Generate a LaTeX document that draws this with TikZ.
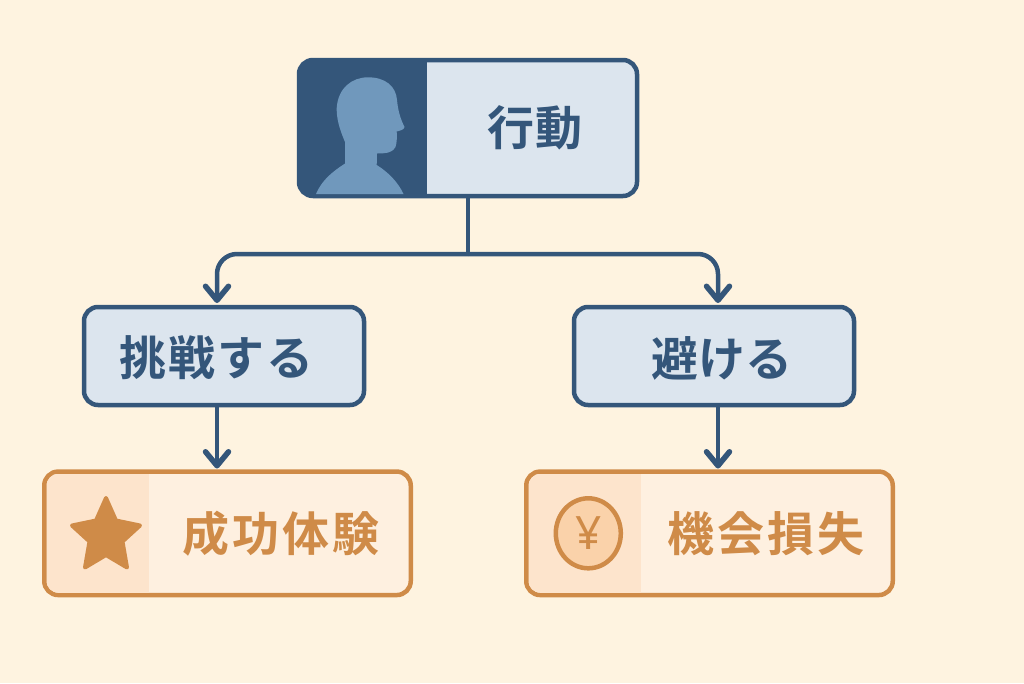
\documentclass[tikz,border=0pt]{standalone}
\usepackage{fontspec}
\usetikzlibrary{arrows.meta,shapes.geometric}
\setmainfont{Noto Sans CJK JP}[BoldFont={Noto Sans CJK JP Bold}]
\newfontfamily\yenfont{Noto Sans}
\definecolor{bgc}{HTML}{FEF3E0}
\definecolor{navy}{HTML}{34567A}
\definecolor{paleblue}{HTML}{DCE5EE}
\definecolor{figblue}{HTML}{7098BC}
\definecolor{ora}{HTML}{CF8B48}
\definecolor{palecream}{HTML}{FEF0E0}
\definecolor{panelora}{HTML}{FDE4CC}
\definecolor{coinfill}{HTML}{FAD2AA}
\tikzset{
  bluebox/.style={draw=navy,fill=paleblue,line width=4.5pt,rounded corners=14pt,inner sep=0pt,outer sep=0pt},
  orabox/.style={draw=ora,fill=palecream,line width=4.5pt,rounded corners=14pt,inner sep=0pt,outer sep=0pt},
  bluetext/.style={text=navy,font=\fontsize{47}{47}\selectfont\bfseries\addfontfeature{LetterSpace=4},inner sep=0pt},
  oratext/.style={text=ora,font=\fontsize{47}{47}\selectfont\bfseries\addfontfeature{LetterSpace=7},inner sep=0pt},
  conn/.style={draw=navy,line width=4.5pt},
  tipped/.style={conn,-{Straight Barb[length=14pt,width=23pt,line width=5.5pt,round]}},
}
\begin{document}
\begin{tikzpicture}[x=1pt,y=-1pt]
\useasboundingbox (0,0) rectangle (1024,683);
\fill[bgc] (0,0) rectangle (1024,683);
% boxes
\node[bluebox,minimum width=338pt,minimum height=136pt] (act) at (468,128) {};
\node[bluebox,minimum width=280pt,minimum height=98pt] (try) at (224,356) {};
\node[bluebox,minimum width=280pt,minimum height=98pt] (avoid) at (714,356) {};
\node[orabox,minimum width=366.5pt,minimum height=123.5pt] (win) at (227.5,533.3) {};
\node[orabox,minimum width=366.5pt,minimum height=123.5pt] (loss) at (709.5,533.3) {};
% panels
\begin{scope}
\clip[rounded corners=14pt] (299,60) rectangle (637,196);
\fill[navy] (299,60) rectangle (427,196);
\end{scope}
\begin{scope}
\clip[rounded corners=12pt] (46.5,473.8) rectangle (408.5,592.8);
\fill[panelora] (46.5,473.8) rectangle (149,592.8);
\end{scope}
\begin{scope}
\clip[rounded corners=12pt] (528.5,473.8) rectangle (890.5,592.8);
\fill[panelora] (528.5,473.8) rectangle (641,592.8);
\end{scope}
% icons
\fill[figblue] (316,194) .. controls (322,180) and (332,172) .. (345,163.5)
  -- (345,142) .. controls (339,128) and (336.5,118) .. (336.7,108)
  .. controls (338,88) and (352,77.3) .. (368,77.3)
  .. controls (385,77.3) and (396,86) .. (397,100)
  .. controls (398,110) and (400,118) .. (404.5,127)
  .. controls (404,130) and (400,130.5) .. (396.7,131.5)
  .. controls (397,137) and (397,142) .. (395.5,147)
  .. controls (393,152) and (388,153.5) .. (377,153.5)
  -- (376.7,165) .. controls (388,172) and (398,182) .. (403.5,194) -- cycle;
\filldraw[ora,line width=4pt,line join=round] (106,498) -- (116,520.5) -- (140,525.5) -- (122.5,541.5) -- (127,567.5)
  -- (106,555) -- (85,567.5) -- (89.5,541.5) -- (72,525.5) -- (96,520.5) -- cycle;
\node[draw=ora,fill=coinfill,line width=4.5pt,ellipse,minimum width=65pt,minimum height=70pt,inner sep=0pt] (coin) at (588.3,533.3) {};
\node[text=ora,font=\yenfont\fontsize{46}{46}\selectfont\bfseries,inner sep=0pt] (yen) at (588.3,533.3) {¥};
% labels
\node[bluetext] (actl) at (535,128) {行動};
\node[bluetext] (tryl) at (216.5,358) {挑戦する};
\node[bluetext,font=\fontsize{47}{47}\selectfont\bfseries] (avoidl) at (721.5,358) {避ける};
\node[oratext] (winl) at (281,534) {成功体験};
\node[oratext] (lossl) at (766,534) {機会損失};
% connectors
\coordinate (split) at (act.south |- 0,254);
\coordinate (tryin) at (217,303);
\coordinate (avoidin) at (718,303);
\coordinate (tryout) at (217,405);
\coordinate (avoidout) at (718,405);
\coordinate (winin) at (217,468.5);
\coordinate (lossin) at (718,468.5);
\draw[conn] (act.south) -- (split);
\draw[tipped,rounded corners=20pt] (split) -| (tryin);
\draw[tipped,rounded corners=20pt] (split) -| (avoidin);
\draw[tipped] (tryout) -- (winin);
\draw[tipped] (avoidout) -- (lossin);
\end{tikzpicture}
\end{document}
